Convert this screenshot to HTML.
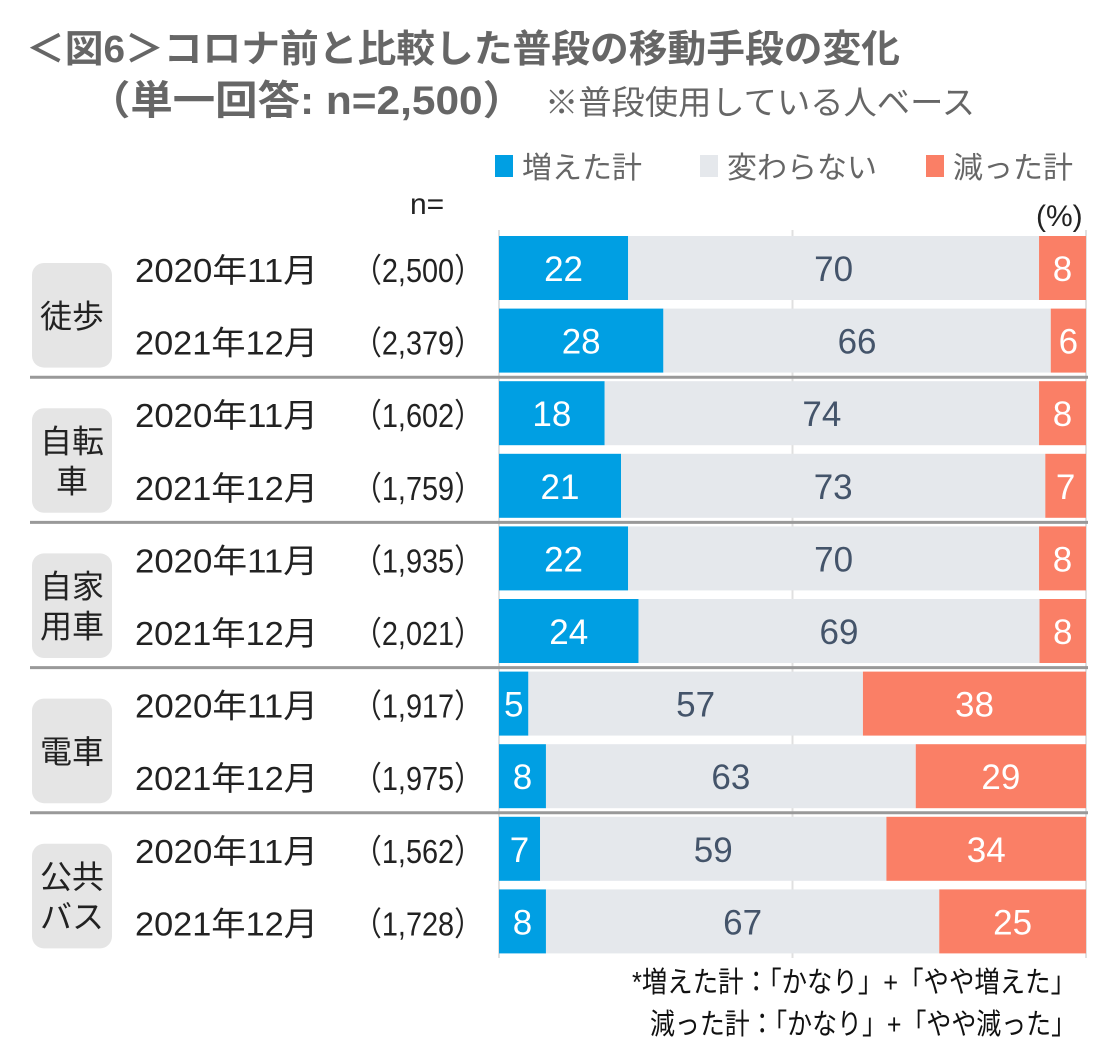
<!DOCTYPE html>
<html><head><meta charset="utf-8"><style>
html,body{margin:0;padding:0;background:#fff;width:1114px;height:1061px;overflow:hidden}
svg{display:block;font-family:"Liberation Sans","Noto Sans CJK JP",sans-serif}
</style></head><body>
<svg id="chart" width="1114" height="1061" viewBox="0 0 1114 1061" xmlns="http://www.w3.org/2000/svg">
<text x="26" y="62" font-size="38" font-weight="bold" fill="#666" textLength="874" lengthAdjust="spacingAndGlyphs">＜図6＞コロナ前と比較した普段の移動手段の変化</text>
<text x="88" y="114" font-size="40" font-weight="bold" fill="#666" textLength="437" lengthAdjust="spacingAndGlyphs">（単一回答: n=2,500）</text>
<text x="545" y="114" font-size="33" fill="#666" textLength="430" lengthAdjust="spacingAndGlyphs">※普段使用している人ベース</text>
<g>
<rect x="495" y="155" width="18" height="22" fill="#009fe3"/>
<text x="522" y="178" font-size="30" fill="#666">増えた計</text>
<rect x="700" y="155" width="18" height="22" fill="#e5e8ec"/>
<text x="727" y="178" font-size="30" fill="#666">変わらない</text>
<rect x="926" y="155" width="18" height="22" fill="#fa7f66"/>
<text x="953" y="178" font-size="30" fill="#666">減った計</text>
</g>
<text x="410" y="214" font-size="30" fill="#222">n=</text>
<text x="1036" y="226" font-size="30" fill="#222">(%)</text>
<g id="grid"></g><g id="bars"></g><g id="labels"></g>
<text x="1076" y="992" text-anchor="end" font-size="29" fill="#111" textLength="444" lengthAdjust="spacingAndGlyphs">*増えた計：「かなり」+「やや増えた」</text>
<text x="1076" y="1034" text-anchor="end" font-size="29" fill="#111" textLength="426" lengthAdjust="spacingAndGlyphs">減った計：「かなり」+「やや減った」</text>
</svg>
<script>
const groups = ["徒歩","自転車","自家用車","電車","公共バス"];
const groupLines = [["徒歩"],["自転","車"],["自家","用車"],["電車"],["公共","バス"]];
const periods = ["2020年11月","2021年12月"];
const sampleSizes = ["（2,500）","（2,379）","（1,602）","（1,759）","（1,935）","（2,021）","（1,917）","（1,975）","（1,562）","（1,728）"];
const increased = [22,28,18,21,22,24,5,8,7,8];
const unchanged = [70,66,74,73,70,69,57,63,59,67];
const decreased = [8,6,8,7,8,8,38,29,34,25];

const NS="http://www.w3.org/2000/svg";
const X0=499,X1=1086,TOP=236,PITCH=72.6,BH=64;
function xs(v){return X0+(X1-X0)*v/100;}
function ys(i){return TOP+i*PITCH;}
function mk(tag,attrs,parent,text){const e=document.createElementNS(NS,tag);for(const k in attrs)e.setAttribute(k,attrs[k]);if(text!==undefined)e.textContent=text;parent.appendChild(e);return e;}
const grid=document.getElementById('grid'),bars=document.getElementById('bars'),labels=document.getElementById('labels');
[0,50,100].forEach(v=>{
  const l=mk('line',{x1:xs(v),x2:xs(v),y1:230,y2:958,stroke:'#e0e0e0','stroke-width':2},grid);
  
  
});
const colors=['#009fe3','#e5e8ec','#fa7f66'];
const tcol=['#fff','#44546a','#fff'];
const segNames=['increased','unchanged','decreased'];
for(let i=0;i<increased.length;i++){
  const vals=[increased[i],unchanged[i],decreased[i]];
  const total=vals[0]+vals[1]+vals[2];
  let acc=0;
  const y=ys(i);
  vals.forEach((v,k)=>{
    let a=acc*100/total, b=(acc+v)*100/total;
    if(k===2){b=100;a=Math.max(a,100-v*100/total);}
    const r=mk('rect',{x:xs(a),y:y,width:xs(b)-xs(a),height:BH,fill:colors[k]},bars);
    
    
    const t=mk('text',{x:(xs(a)+xs(b))/2,y:y+BH/2+13,'text-anchor':'middle','font-size':35,fill:tcol[k]},labels,String(v));
    
    
    acc+=v;
  });
  const p=mk('text',{x:135,y:y+BH/2+14,'font-size':33,fill:'#222',textLength:183,lengthAdjust:'spacingAndGlyphs'},labels,periods[i%2]);
  
  
  const n=mk('text',{x:483,y:y+BH/2+14,'text-anchor':'end','font-size':33,fill:'#222',textLength:130,lengthAdjust:'spacingAndGlyphs'},labels,sampleSizes[i]);
  
  
}
groups.forEach((g,j)=>{
  const yTop=ys(j*2)+27, yBot=ys(j*2+1)+BH-5;
  const b=mk('rect',{x:32,y:yTop,width:80,height:yBot-yTop,rx:12,fill:'#e5e5e5'},labels);
  
  
  const lines=groupLines[j];const cy=(yTop+yBot)/2;
  lines.forEach((ln,m)=>{
    const t=mk('text',{x:72,y:cy+12+(m-(lines.length-1)/2)*40,'text-anchor':'middle','font-size':32,fill:'#222'},labels,ln);
    
    
  });
  if(j<groups.length-1){
    const sy=ys(j*2+2)-4;
    const s=mk('line',{x1:30,x2:1088,y1:sy,y2:sy,stroke:'#999','stroke-width':3},labels);
    
    
  }
});
</script>
</body></html>
